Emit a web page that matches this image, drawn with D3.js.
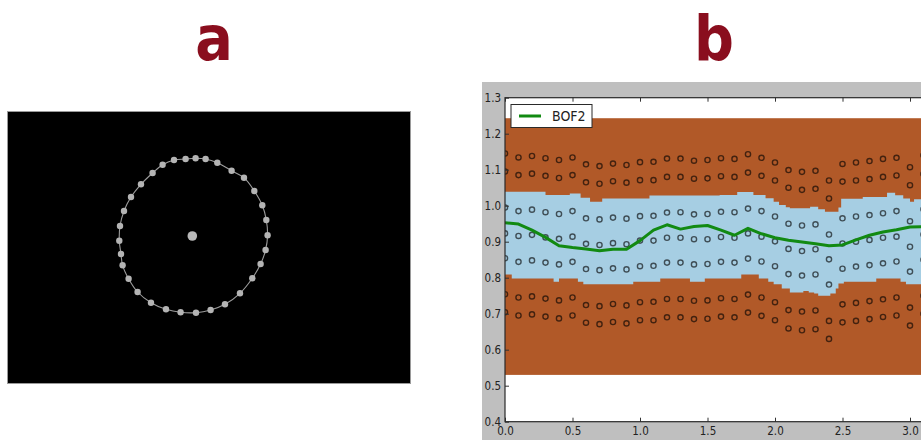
<!DOCTYPE html>
<html>
<head>
<meta charset="utf-8">
<script src="https://cdn.jsdelivr.net/npm/d3@7"></script>
<style>
  html, body { margin: 0; padding: 0; background: #fff; }
  svg { display: block; }
  .tick text { font-family: "DejaVu Sans Condensed", "DejaVu Sans", sans-serif; font-size: 11.5px; fill: #222; }
</style>
</head>
<body>
<svg id="fig" width="921" height="440"></svg>
<script>
// ---------- panel a: contour points around the centre (image pixel offsets) ----------
const ringCentre = [184.8, 124.5];
const ringDX = [-18.3, -6.7, 3.3, 13.3, 25, 39.3, 51.7, 62, 70, 74, 75.3, 73.3, 68.3, 60, 47.7, 32.7,
                18.3, 3.7, -11.7, -26.3, -41.3, -54.7, -63.7, -69.7, -71.3, -73, -72.3, -68.3, -61.3, -51.3, -39.7, -29.7];
const ringDY = [-76, -77, -77.7, -77, -73.3, -65.3, -58.3, -45, -30.7, -16, -0.7, 14, 28, 42.3, 57.3, 68.3,
                74, 76.7, 76.3, 73.3, 66.7, 56, 42.7, 29.3, 18, 4.7, -10, -25, -39, -51.7, -63, -71.3];

// ---------- panel b: sampled profile ----------
const sampleX = [0.0, 0.1, 0.2, 0.3, 0.4, 0.5, 0.6, 0.7, 0.8, 0.9, 1.0, 1.1, 1.2, 1.3, 1.4, 1.5,
                 1.6, 1.7, 1.8, 1.9, 2.0, 2.1, 2.2, 2.3, 2.4, 2.5, 2.6, 2.7, 2.8, 2.9, 3.0, 3.1];
const outerRow1 = [1.145, 1.134, 1.138, 1.132, 1.127, 1.134, 1.115, 1.110, 1.117, 1.113, 1.121, 1.122, 1.131, 1.131, 1.125, 1.127,
                   1.132, 1.130, 1.143, 1.133, 1.120, 1.099, 1.094, 1.097, 1.070, 1.116, 1.120, 1.124, 1.130, 1.133, 1.107, 1.140];
const outerRow2 = [1.095, 1.085, 1.089, 1.083, 1.077, 1.085, 1.065, 1.061, 1.068, 1.064, 1.071, 1.071, 1.080, 1.080, 1.075, 1.076,
                   1.082, 1.080, 1.092, 1.083, 1.070, 1.050, 1.044, 1.047, 1.020, 1.067, 1.070, 1.074, 1.080, 1.084, 1.057, 1.088];
const bandRow1  = [0.995, 0.985, 0.989, 0.982, 0.977, 0.985, 0.965, 0.962, 0.967, 0.964, 0.971, 0.972, 0.981, 0.982, 0.976, 0.977,
                   0.983, 0.982, 0.992, 0.985, 0.970, 0.950, 0.945, 0.948, 0.920, 0.965, 0.970, 0.974, 0.979, 0.985, 0.957, 0.990];
const bandRow2  = [0.923, 0.916, 0.919, 0.912, 0.908, 0.914, 0.894, 0.891, 0.896, 0.893, 0.903, 0.903, 0.911, 0.911, 0.907, 0.907,
                   0.913, 0.911, 0.923, 0.914, 0.901, 0.880, 0.874, 0.879, 0.851, 0.895, 0.900, 0.905, 0.911, 0.914, 0.886, 0.920];
const bandRow3  = [0.854, 0.844, 0.848, 0.842, 0.837, 0.844, 0.824, 0.821, 0.826, 0.823, 0.832, 0.833, 0.842, 0.842, 0.837, 0.838,
                   0.844, 0.842, 0.853, 0.845, 0.832, 0.810, 0.806, 0.809, 0.781, 0.825, 0.831, 0.835, 0.840, 0.845, 0.817, 0.850];
const innerRow1 = [0.754, 0.745, 0.748, 0.742, 0.737, 0.745, 0.724, 0.721, 0.727, 0.723, 0.732, 0.733, 0.741, 0.741, 0.736, 0.737,
                   0.743, 0.741, 0.753, 0.745, 0.732, 0.710, 0.706, 0.709, 0.680, 0.726, 0.730, 0.735, 0.740, 0.745, 0.717, 0.750];
const innerRow2 = [0.704, 0.695, 0.698, 0.692, 0.687, 0.695, 0.675, 0.671, 0.677, 0.673, 0.682, 0.682, 0.690, 0.690, 0.685, 0.686,
                   0.692, 0.690, 0.703, 0.694, 0.682, 0.659, 0.654, 0.657, 0.630, 0.676, 0.680, 0.685, 0.691, 0.695, 0.667, 0.700];
const bof2      = [0.953, 0.949, 0.932, 0.912, 0.889, 0.884, 0.880, 0.875, 0.879, 0.879, 0.903, 0.932, 0.947, 0.935, 0.942, 0.945,
                   0.932, 0.918, 0.937, 0.922, 0.911, 0.904, 0.899, 0.894, 0.889, 0.891, 0.905, 0.918, 0.927, 0.933, 0.941, 0.942];

// label map: outer region limits and the stepped edges of the middle band
const outerBand = [0.530, 1.243];
const bandTopX = [0.00, 0.30, 0.48, 0.56, 0.63, 0.72, 1.07, 1.59, 1.72, 1.84, 1.93, 1.99, 2.03, 2.08, 2.11, 2.26, 2.32, 2.37, 2.47, 2.49, 2.65, 2.83, 2.89, 2.95, 3.00, 3.03];
const bandTopY = [1.039, 1.030, 1.034, 1.022, 1.011, 1.020, 1.028, 1.030, 1.038, 1.030, 1.021, 1.011, 1.002, 0.996, 0.993, 0.997, 0.990, 0.983, 0.995, 1.019, 1.024, 1.036, 1.029, 1.020, 1.011, 1.018];
const bandBotX = [0.00, 0.05, 0.36, 0.40, 0.54, 0.58, 0.95, 1.15, 1.37, 1.48, 1.75, 1.88, 1.95, 1.99, 2.05, 2.11, 2.21, 2.25, 2.29, 2.32, 2.41, 2.45, 2.47, 2.51, 2.75, 2.93, 2.97];
const bandBotY = [0.809, 0.798, 0.789, 0.798, 0.789, 0.782, 0.789, 0.798, 0.789, 0.798, 0.809, 0.798, 0.789, 0.782, 0.770, 0.759, 0.763, 0.759, 0.756, 0.750, 0.756, 0.770, 0.784, 0.789, 0.798, 0.789, 0.782];

const xTicks = [0.0, 0.5, 1.0, 1.5, 2.0, 2.5, 3.0];
const yTicks = [0.4, 0.5, 0.6, 0.7, 0.8, 0.9, 1.0, 1.1, 1.2, 1.3];
const seriesName = "BOF2";

const svg = d3.select("#fig");

// ---------------- titles ----------------
svg.selectAll("text.panel-title")
  .data([["a", 214], ["b", 714]])
  .join("text")
  .attr("class", "panel-title")
  .attr("x", d => d[1]).attr("y", 60)
  .attr("text-anchor", "middle")
  .attr("font-family", "'DejaVu Sans Condensed', 'DejaVu Sans', sans-serif")
  .attr("font-weight", 700)
  .attr("font-size", 62)
  .attr("fill", "#8a0e1e")
  .text(d => d[0]);

// ---------------- panel a ----------------
const imgW = 403, imgH = 272;
const ax = d3.scaleLinear().domain([0, imgW]).range([7.5, 410.5]);
const ay = d3.scaleLinear().domain([0, imgH]).range([111.5, 383.5]);

svg.append("rect")
  .attr("x", ax(0)).attr("y", ay(0))
  .attr("width", ax(imgW) - ax(0)).attr("height", ay(imgH) - ay(0))
  .attr("fill", "#000").attr("stroke", "#9a9a9a").attr("stroke-width", 1);

const ringPts = ringDX.map((dx, i) => [ringCentre[0] + dx, ringCentre[1] + ringDY[i]]);
svg.append("path")
  .datum(ringPts)
  .attr("d", d3.line().x(d => ax(d[0])).y(d => ay(d[1])).curve(d3.curveCatmullRomClosed))
  .attr("fill", "none").attr("stroke", "#9c9c9c").attr("stroke-width", 1.1);

svg.append("g").selectAll("circle")
  .data(ringPts).join("circle")
  .attr("cx", d => ax(d[0])).attr("cy", d => ay(d[1]))
  .attr("r", 3.2).attr("fill", "#b4b4b4");

svg.append("circle")
  .attr("cx", ax(ringCentre[0])).attr("cy", ay(ringCentre[1]))
  .attr("r", 4.8).attr("fill", "#b8b8b8");

// ---------------- panel b ----------------
svg.append("rect")
  .attr("x", 482).attr("y", 82).attr("width", 921 - 482).attr("height", 440 - 82)
  .attr("fill", "#bfbfbf");

const x = d3.scaleLinear().domain([0, 3.2]).range([505, 937]);
const y = d3.scaleLinear().domain([0.4, 1.3]).range([421.7, 97.7]);
const [x0, x1] = x.range();
const [y0, y1] = [y(1.3), y(0.4)];

svg.append("clipPath").attr("id", "plot-clip")
  .append("rect").attr("x", x0).attr("y", y0).attr("width", x1 - x0).attr("height", y1 - y0);

const plot = svg.append("g").attr("clip-path", "url(#plot-clip)");
plot.append("rect")
  .attr("x", x0).attr("y", y0).attr("width", x1 - x0).attr("height", y1 - y0)
  .attr("fill", "#fff");

// outer (brown) region
plot.append("rect")
  .attr("x", x(0)).attr("y", y(outerBand[1]))
  .attr("width", x(3.2) - x(0)).attr("height", y(outerBand[0]) - y(outerBand[1]))
  .attr("fill", "#b15928");

// middle (light blue) band with stepped edges
const stepAt = (xs, ys, v) => { let k = 0; for (let i = 0; i < xs.length; i++) if (xs[i] <= v + 1e-9) k = i; return ys[k]; };
const edgeX = Array.from(new Set([...bandTopX, ...bandBotX, 3.2])).sort((a, b) => a - b);
const bandPts = edgeX.map(v => ({ x: v, top: stepAt(bandTopX, bandTopY, v), bot: stepAt(bandBotX, bandBotY, v) }));
plot.append("path")
  .datum(bandPts)
  .attr("d", d3.area().curve(d3.curveStepAfter).x(d => x(d.x)).y0(d => y(d.bot)).y1(d => y(d.top)))
  .attr("fill", "#a6cee3");

// sample markers
const rows = [outerRow1, outerRow2, bandRow1, bandRow2, bandRow3, innerRow1, innerRow2];
const markerPts = rows.flatMap(r => r.map((v, i) => [sampleX[i], v]));
plot.append("g").selectAll("circle")
  .data(markerPts).join("circle")
  .attr("cx", d => x(d[0])).attr("cy", d => y(d[1]))
  .attr("r", 2.6)
  .attr("fill", "none").attr("stroke", "#000").attr("stroke-opacity", 0.62).attr("stroke-width", 1.4);

// BOF2 line
plot.append("path")
  .datum(sampleX.map((v, i) => [v, bof2[i]]))
  .attr("d", d3.line().x(d => x(d[0])).y(d => y(d[1])))
  .attr("fill", "none").attr("stroke", "#128a12").attr("stroke-width", 3).attr("stroke-linejoin", "round");

// axes (ticks pointing inward)
const axisColor = "#333";
const gLeft = svg.append("g").attr("transform", `translate(${x0},0)`)
  .call(d3.axisLeft(y).tickValues(yTicks).tickFormat(d3.format(".1f")).tickSizeInner(-4).tickSizeOuter(0).tickPadding(4));
const gBottom = svg.append("g").attr("transform", `translate(0,${y1})`)
  .call(d3.axisBottom(x).tickValues(xTicks).tickFormat(d3.format(".1f")).tickSizeInner(-4).tickSizeOuter(0).tickPadding(5));
const gTop = svg.append("g").attr("transform", `translate(0,${y0})`)
  .call(d3.axisTop(x).tickValues(xTicks).tickFormat("").tickSizeInner(-4).tickSizeOuter(0));
[gLeft, gBottom, gTop].forEach(g => {
  g.select(".domain").remove();
  g.selectAll(".tick line").attr("stroke", axisColor);
});
gLeft.selectAll(".tick text").attr("dy", "0.35em");

// frame
svg.append("rect")
  .attr("x", x0).attr("y", y0).attr("width", x1 - x0).attr("height", y1 - y0)
  .attr("fill", "none").attr("stroke", "#2a2a2a").attr("stroke-width", 1.2);

// legend
const lg = svg.append("g").attr("transform", "translate(511,104.5)");
lg.append("rect").attr("width", 81).attr("height", 23)
  .attr("fill", "#fff").attr("stroke", "#2a2a2a").attr("stroke-width", 1);
lg.append("line").attr("x1", 8).attr("x2", 30).attr("y1", 11.5).attr("y2", 11.5)
  .attr("stroke", "#128a12").attr("stroke-width", 3);
lg.append("text").attr("x", 41).attr("y", 16.5)
  .attr("font-family", "'DejaVu Sans Condensed', 'DejaVu Sans', sans-serif")
  .attr("font-size", 14).attr("fill", "#222")
  .text(seriesName);
</script>
</body>
</html>
